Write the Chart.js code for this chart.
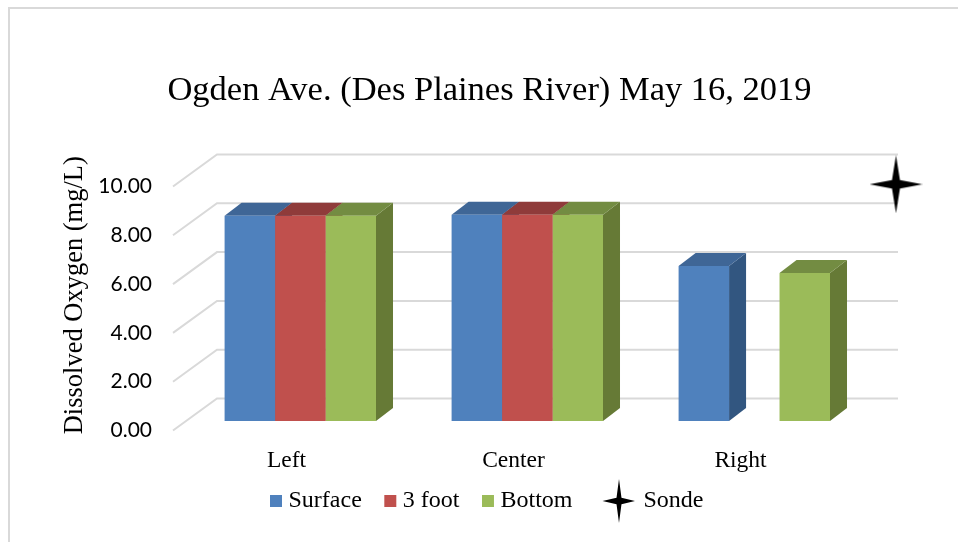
<!DOCTYPE html>
<html><head><meta charset="utf-8">
<style>
html,body{margin:0;padding:0;background:#fff;overflow:hidden}
#frame{position:absolute;left:8px;top:7px;width:950px;height:535px;border-top:2px solid #D9D9D9;border-left:2px solid #D9D9D9;box-sizing:border-box}
canvas{position:absolute;left:0;top:0}
</style>
<script src="https://cdn.jsdelivr.net/npm/chart.js@4"></script>
</head><body>
<div id="frame"></div>
<canvas id="c" width="958" height="542"></canvas>
<script>
const categories=['Left','Center','Right'];
const surface=[8.41,8.45,6.35];
const threeFoot=[8.41,8.45,null];
const bottom=[8.41,8.45,6.07];
const sonde=[null,null,10.09];
const yTicks=[0,2,4,6,8,10];
const SERIF='"Liberation Serif","Times New Roman",serif';
const FACE={Surface:['#4F81BD','#3F6696','#325680'],'3 foot':['#C0504D','#8F3B3A','#823735'],Bottom:['#9BBB59','#738C42','#667A36']};
const DEPTH={wallX:44,wallY:32,barShiftX:13.8,barShiftY:-9.5,barX:17,barY:13,sondeShiftX:155.5};

function starCanvas(w,h,canvasW,cx){
  const c=document.createElement('canvas');c.width=canvasW;c.height=h;
  const g=c.getContext('2d');const cy=h/2,rx=w/2,ry=h/2,k=0.15;
  g.fillStyle='#000';g.beginPath();g.moveTo(cx,cy-ry);
  g.lineTo(cx+rx*k,cy-ry*k);g.lineTo(cx+rx,cy);
  g.lineTo(cx+rx*k,cy+ry*k);g.lineTo(cx,cy+ry);
  g.lineTo(cx-rx*k,cy+ry*k);g.lineTo(cx-rx,cy);
  g.lineTo(cx-rx*k,cy-ry*k);
  g.closePath();g.fill();return c;
}
const plotStar=starCanvas(53,58,53,26.5);
const legendStar=starCanvas(33,44,68,52);

const depth3d={
  id:'depth3d',
  afterLayout(chart){
    const x=chart.scales.x,l=chart.legend;
    x.bottom=x.top+50;
    const h=l.height;l.top=461;l.bottom=461+h;
  },
  beforeDatasetsDraw(chart){
    const {ctx,chartArea:a,scales:{y}}=chart;
    ctx.save();ctx.strokeStyle='#D9D9D9';ctx.lineWidth=2;
    yTicks.forEach(v=>{
      const p=y.getPixelForValue(v);
      ctx.beginPath();ctx.moveTo(a.left,p);
      ctx.lineTo(a.left+DEPTH.wallX,p-DEPTH.wallY);
      ctx.lineTo(a.right+DEPTH.wallX,p-DEPTH.wallY);ctx.stroke();
    });
    ctx.restore();
    ctx.save();ctx.translate(DEPTH.barShiftX,DEPTH.barShiftY);
    chart.data.datasets.forEach((ds,n)=>{
      const meta=chart.getDatasetMeta(n);
      if(meta.type!=='bar')return;
      const f=FACE[ds.label];
      meta.data.forEach((b,i)=>{
        if(ds.data[i]==null)return;
        const l=b.x-b.width/2,r=b.x+b.width/2,t=b.y,bt=b.base;
        ctx.fillStyle=f[2];ctx.beginPath();
        ctx.moveTo(r,t);ctx.lineTo(r+DEPTH.barX,t-DEPTH.barY);ctx.lineTo(r+DEPTH.barX,bt-DEPTH.barY);ctx.lineTo(r,bt);ctx.closePath();ctx.fill();
        ctx.fillStyle=f[1];ctx.beginPath();
        ctx.moveTo(l,t);ctx.lineTo(l+DEPTH.barX,t-DEPTH.barY);ctx.lineTo(r+DEPTH.barX,t-DEPTH.barY);ctx.lineTo(r,t);ctx.closePath();ctx.fill();
      });
    });
    ctx.restore();
  },
  beforeDatasetDraw(chart,args){
    const {ctx}=chart;
    ctx.save();
    if(args.meta.type==='bar')ctx.translate(DEPTH.barShiftX,DEPTH.barShiftY);
    else ctx.translate(DEPTH.sondeShiftX,0);
  },
  afterDatasetDraw(chart){chart.ctx.restore();}
};
const nb='\u00A0';
new Chart(document.getElementById('c'),{
  data:{labels:categories,datasets:[
    {type:'bar',label:'Surface',data:surface,backgroundColor:FACE.Surface[0]},
    {type:'bar',label:'3 foot',data:threeFoot,backgroundColor:FACE['3 foot'][0]},
    {type:'bar',label:'Bottom',data:bottom,backgroundColor:FACE.Bottom[0]},
    {type:'line',label:'Sonde',data:sonde,showLine:false,pointStyle:plotStar,pointRadius:26,clip:false}
  ]},
  plugins:[depth3d],
  options:{
    responsive:false,animation:false,devicePixelRatio:1,
    layout:{padding:{left:21,right:0,top:0,bottom:0}},
    datasets:{bar:{categoryPercentage:0.667,barPercentage:1}},
    plugins:{
      tooltip:{enabled:false},
      title:{display:true,text:'Ogden Ave. (Des Plaines River) May 16, 2019',color:'#000',
        font:{family:SERIF,size:34.5,weight:'normal'},padding:{top:70,bottom:75.1}},
      legend:{display:true,position:'bottom',
        labels:{usePointStyle:true,boxWidth:1,boxHeight:12,padding:28,color:'#000',
          font:{family:SERIF,size:24},
          generateLabels(chart){
            return chart.data.datasets.map((d,i)=>({
              text:d.label==='Sonde'?nb.repeat(5)+d.label:d.label,
              fillStyle:d.backgroundColor||'#000',strokeStyle:'rgba(0,0,0,0)',lineWidth:0,
              pointStyle:d.label==='Sonde'?legendStar:'rect',hidden:false,datasetIndex:i
            }));
          }}}
    },
    scales:{
      x:{type:'category',position:'bottom',grid:{display:false,drawTicks:false},border:{display:false},
        ticks:{color:'#000',padding:18.5,maxRotation:0,font:{family:SERIF,size:23.5,lineHeight:1}},
        afterFit(s){s.height=542-s.chart.legend.height-430.5;}},
      y:{type:'linear',position:'left',min:0,max:10,grid:{display:false,drawTicks:false},border:{display:false},
        ticks:{stepSize:2,color:'#000',padding:21,font:{family:'Lato',size:21},callback:v=>Number(v).toFixed(2)},
        title:{display:true,text:nb.repeat(4)+'Dissolved Oxygen (mg/L)',color:'#000',font:{family:SERIF,size:26.5},padding:{top:38,bottom:0}},
        afterFit(s){s.width=152;}},
      yR:{type:'linear',position:'right',min:0,max:1,grid:{display:false,drawTicks:false},border:{display:false},
        ticks:{display:false},afterFit(s){s.width=104;}}
    }
  }
});
</script>
</body></html>
